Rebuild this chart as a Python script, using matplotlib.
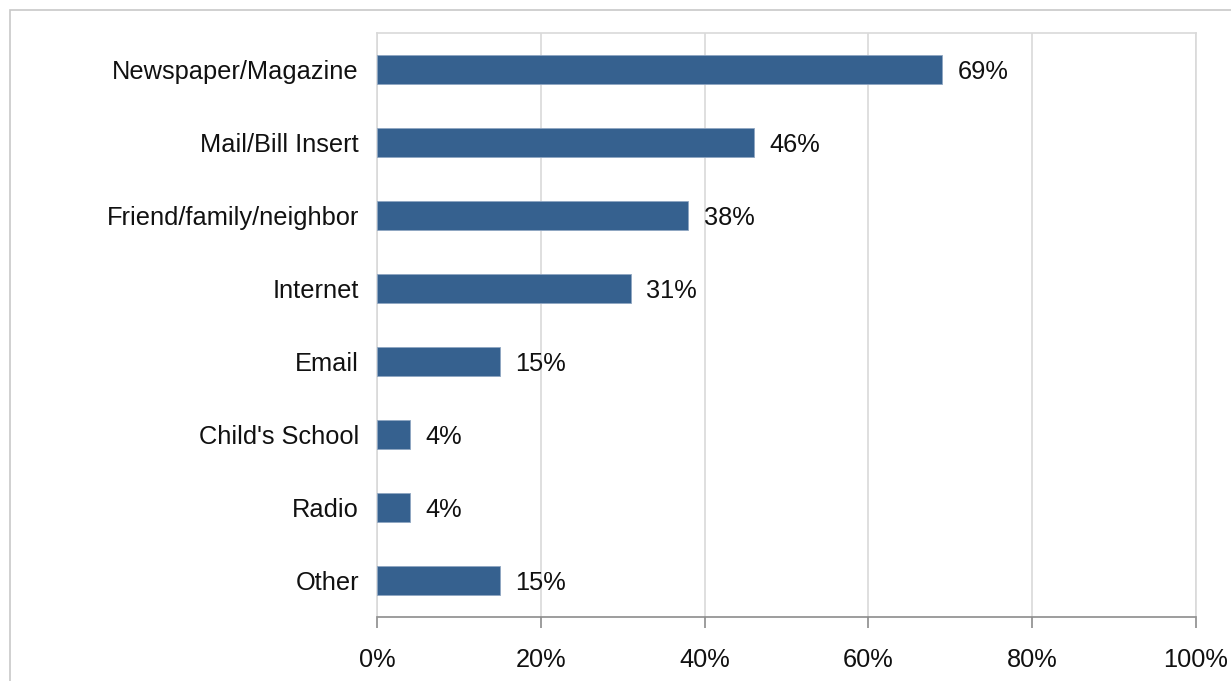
import numpy as np
import matplotlib.pyplot as plt
from matplotlib.patches import Rectangle

# Data
categories = ["Newspaper/Magazine", "Mail/Bill Insert", "Friend/family/neighbor",
              "Internet", "Email", "Child's School", "Radio", "Other"]
values = [69, 46, 38, 31, 15, 4, 4, 15]
xticks = [0, 20, 40, 60, 80, 100]

plt.rcParams['font.family'] = ['Liberation Sans', 'DejaVu Sans']
fs = 18.3

fig = plt.figure(figsize=(12.31, 6.81), dpi=100)
ax = fig.add_axes([377 / 1231, 1 - 617 / 681, 819 / 1231, 584 / 681])

# outer chart frame
fig.patches.append(Rectangle((10 / 1231, -0.1), 1.2, 1 - 10 / 681 + 0.1,
                             transform=fig.transFigure, fill=False,
                             edgecolor="#c8c8c8", linewidth=1.2))

y = np.arange(len(categories))
ax.barh(y, values, height=0.39, color="#36618f", edgecolor="#8fa6c2",
        linewidth=0.6, zorder=3)

for yi, v in zip(y, values):
    ax.text(v + 1.9, yi, f"{v}%", va="center_baseline", ha="left", fontsize=fs,
            color="#111111")

ax.set_xlim(0, 100)
ax.set_ylim(len(categories) - 0.5, -0.5)
ax.set_yticks(y)
ax.set_yticklabels(categories, fontsize=fs, color="#111111")
ax.tick_params(axis="y", length=0, pad=13)
ax.set_xticks(xticks)
ax.set_xticklabels([f"{t}%" for t in xticks], fontsize=fs, color="#111111")
ax.tick_params(axis="x", length=8, width=1.2, color="#8c8c8c", pad=14)

ax.grid(axis="x", color="#d9d9d9", linewidth=1.2, zorder=0)
for side in ["top", "left", "right"]:
    ax.spines[side].set_color("#d9d9d9")
    ax.spines[side].set_linewidth(1.2)
ax.spines["bottom"].set_color("#8c8c8c")
ax.spines["bottom"].set_linewidth(1.2)

fig.savefig("out.png", dpi=100)
